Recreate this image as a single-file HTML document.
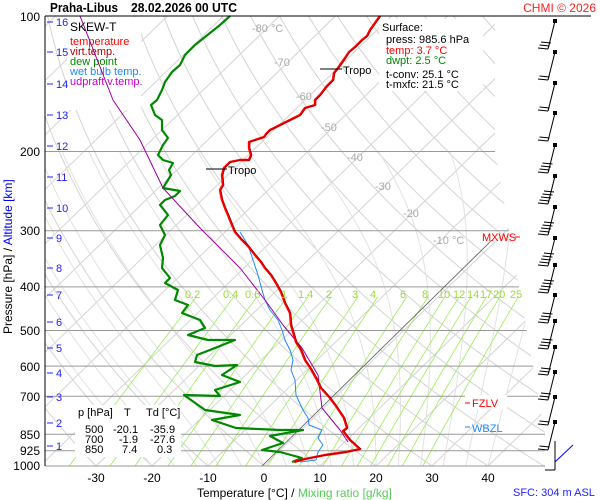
<!DOCTYPE html>
<html><head><meta charset="utf-8"><style>
body{margin:0;background:#fff}
svg{display:block;font-family:"Liberation Sans",sans-serif}
</style></head><body>
<svg id="s" width="600" height="500" xmlns="http://www.w3.org/2000/svg">
<defs><clipPath id="c"><polygon points="45,16 495,16 495,151 545,434 545,466 45,466"/></clipPath></defs>
<g id="grid" clip-path="url(#c)"></g>
<g id="hl"></g>
<rect x="67" y="17" width="74" height="93" fill="#fff"/>
<rect x="379" y="19" width="104" height="72" fill="#fff"/>
<rect x="75" y="405" width="106" height="52" fill="#fff"/>
<g font-size="11">
<text x="70" y="31" font-size="12" fill="#000">SKEW-T</text>
<text x="70" y="45" fill="#f00">temperature</text>
<text x="70" y="55" fill="#a00">virt.temp.</text>
<text x="70" y="65" fill="#080">dew point</text>
<text x="70" y="75" fill="#28f">wet bulb temp.</text>
<text x="70" y="85" fill="#c0c">udpraft v.temp.</text>
<text x="382" y="31" fill="#000">Surface:</text>
<text x="386" y="43" fill="#000">press: 985.6 hPa</text>
<text x="386" y="54" fill="#f00">temp: 3.7 °C</text>
<text x="386" y="64" fill="#080">dwpt: 2.5 °C</text>
<text x="386" y="78" fill="#000">t-conv: 25.1 °C</text>
<text x="386" y="88" fill="#000">t-mxfc: 21.5 °C</text>
<text x="78" y="416" fill="#000">p [hPa]</text><text x="124" y="416">T</text><text x="146" y="416">Td [°C]</text>
<text x="85" y="433">500</text><text x="113" y="433">-20.1</text><text x="150" y="433">-35.9</text>
<text x="85" y="443">700</text><text x="119" y="443">-1.9</text><text x="150" y="443">-27.6</text>
<text x="85" y="453">850</text><text x="122" y="453">7.4</text><text x="157" y="453">0.3</text>
</g>
<g id="prof" fill="none" stroke-linejoin="round"></g>
<line x1="45" y1="16" x2="45" y2="466" stroke="#000"/>
<line x1="45" y1="16" x2="591" y2="16" stroke="#000"/>
<g font-size="12" text-anchor="end" fill="#000">
<text x="40" y="21">100</text><text x="40" y="156">200</text><text x="40" y="235">300</text><text x="40" y="291">400</text><text x="40" y="335">500</text><text x="40" y="371">600</text><text x="40" y="401">700</text><text x="40" y="439">850</text><text x="40" y="455">925</text><text x="40" y="470">1000</text>
</g>
<text transform="translate(12,334) rotate(-90)" font-size="12" fill="#000">Pressure [hPa]  /  <tspan fill="#00f">Altitude [km]</tspan></text>
<g font-size="11" fill="#22f" id="km"></g>
<g font-size="12" text-anchor="middle" fill="#000">
<text x="96" y="482">-30</text><text x="152" y="482">-20</text><text x="208" y="482">-10</text><text x="264" y="482">0</text><text x="320" y="482">10</text><text x="376" y="482">20</text><text x="432" y="482">30</text><text x="488" y="482">40</text>
</g>
<text x="197" y="497" font-size="12" fill="#000">Temperature [°C]  /  <tspan fill="#5c5">Mixing ratio [g/kg]</tspan></text>
<text x="513" y="496" font-size="11" fill="#22f">SFC: 304 m ASL</text>
<text x="50" y="12" font-size="13" font-weight="bold" fill="#000" textLength="68" lengthAdjust="spacingAndGlyphs">Praha-Libus</text>
<text x="131" y="12" font-size="13" font-weight="bold" fill="#000" textLength="106" lengthAdjust="spacingAndGlyphs">28.02.2026 00 UTC</text>
<text x="596" y="12" font-size="12" fill="#f22" text-anchor="end">CHMI © 2026</text>
<g font-size="11" fill="#aaa">
<text x="252" y="32">-80 °C</text><text x="274" y="66">-70</text><text x="296" y="100">-60</text><text x="321" y="131">-50</text><text x="347" y="161">-40</text><text x="375" y="190">-30</text><text x="403" y="217">-20</text><text x="433" y="244">-10 °C</text>
</g>
<g font-size="11" fill="#9d3">
<text x="185" y="298">0.2</text><text x="223" y="298">0.4</text><text x="245" y="298">0.6</text><text x="281" y="298">1</text><text x="298" y="298">1.4</text><text x="326" y="298">2</text><text x="352" y="298">3</text><text x="370" y="298">4</text><text x="400" y="298">6</text><text x="422" y="298">8</text><text x="438" y="298">10</text><text x="453" y="298">12</text><text x="467" y="298">14</text><text x="480" y="298">17</text><text x="493" y="298">20</text><text x="510" y="298">25</text>
</g>
<rect x="465" y="395" width="42" height="14" fill="#fff"/>
<text x="472" y="407" font-size="11" fill="#f00">FZLV</text><line x1="465" y1="403" x2="470" y2="403" stroke="#f00"/>
<text x="472" y="432" font-size="11" fill="#28f">WBZL</text><line x1="465" y1="427" x2="470" y2="427" stroke="#28f"/>
<text x="482" y="241" font-size="11" fill="#f00">MXWS</text><line x1="515" y1="237" x2="520" y2="237" stroke="#f00"/>
<line x1="320" y1="69" x2="342" y2="69" stroke="#000"/><text x="343" y="74" font-size="11">Tropo</text>
<line x1="206" y1="169" x2="227" y2="169" stroke="#000"/><text x="228" y="174" font-size="11">Tropo</text>
<g id="barbs" stroke="#000" fill="none"></g>
</svg>
<script>
const NS="http://www.w3.org/2000/svg";
function Y(p){return 16+450*Math.log10(p/100);}
function X(T,p){return 264+5.6*T+1.03*(466-Y(p));}
function el(par,tag,a){const e=document.createElementNS(NS,tag);for(const k in a)e.setAttribute(k,a[k]);document.getElementById(par).appendChild(e);return e;}
function pl(par,pts,col,w,extra){let a={points:pts.map(q=>q[0].toFixed(1)+","+q[1].toFixed(1)).join(" "),fill:"none",stroke:col,"stroke-width":w};Object.assign(a,extra||{});el(par,"polyline",a);}
const ps=[];for(let p=100;p<=1000;p+=10)ps.push(p);
for(let T=-140;T<=50;T+=10)pl("grid",[[X(T,1000),Y(1000)],[X(T,100),Y(100)]],"#d4d4d4",1);
for(let th=-40;th<=220;th+=10){let pts=ps.map(p=>{const T=(th+273.15)*Math.pow(p/1000,0.286)-273.15;return [X(T,p),Y(p)];});pl("grid",pts,"#d4d4d4",1);}
function es(T){return 6.112*Math.exp(17.67*T/(T+243.5));}
for(let T0=-20;T0<=40;T0+=4){let T=T0,pts=[];for(let p=1000;p>=200;p-=5){pts.push([X(T,p),Y(p)]);const Tk=T+273.15,e=es(T),r=0.622*e/(p-e);const g=(287*Tk+2.5e6*r)/(1004+2.5e6*2.5e6*r*0.622/(287*Tk*Tk))/p;T-=g*5;}pl("grid",pts,"#e2e2e2",1);}
[0.2,0.4,0.6,1,1.4,2,3,4,6,8,10,12,14,17,20,25].forEach(w=>{let pts=[];for(let p=420;p<=1000;p+=20){const e=w*p/(622+w);const l=Math.log(e/6.112);const T=243.5*l/(17.67-l);pts.push([X(T,p),Y(p)]);}pl("grid",pts,"#9e5",0.8);});
[200,300,400,500,600,700,850,925,1000].forEach(p=>{const y=Y(p);const xe=y<151?495:495+(y-151)*0.177;el("hl","line",{x1:45,y1:y,x2:Math.min(xe,545),y2:y,stroke:"#999"});});
pl("prof",[[262,466],[492,240]],"#555",0.8);
[[16,22],[15,52],[14,84],[13,115],[12,146],[11,177],[10,208],[9,238],[8,268],[7,295],[6,322],[5,348],[4,373],[3,397],[2,423],[1,446]].forEach(([k,y])=>{el("km","line",{x1:47,y1:y,x2:53,y2:y,stroke:"#22f"});const t=el("km","text",{x:56,y:y+4});t.textContent=k;});
const dew=[[230,16],[220,25],[210,33],[195,45],[185,55],[180,65],[172,72],[165,82],[162,90],[157,100],[151,105],[155,115],[162,120],[162,130],[168,138],[163,145],[158,155],[163,160],[173,163],[169,170],[171,175],[168,180],[163,188],[180,191],[175,196],[165,200],[160,205],[168,215],[160,225],[165,235],[160,245],[163,258],[162,268],[170,278],[165,283],[178,290],[175,300],[188,305],[182,313],[200,320],[205,328],[188,335],[208,340],[235,340],[215,348],[197,355],[195,362],[215,366],[237,365],[222,375],[240,382],[215,390],[220,396],[184,395],[205,410],[240,415],[212,420],[236,428],[280,430],[303,430],[270,436],[283,443],[262,450],[280,452],[302,458],[292,462]];
pl("prof",dew,"#080",2.2);
const wb=[[240,232],[248,245],[253,260],[258,275],[262,290],[265,300],[270,310],[278,320],[282,330],[285,340],[290,350],[293,360],[291,370],[295,380],[296,395],[303,410],[308,418],[309,425],[322,430],[318,438],[323,445],[318,452],[316,460],[300,462]];
pl("prof",wb,"#28f",1);
pl("prof",[[80,16],[113,100],[140,140],[163,188],[200,228],[240,268],[265,300],[283,325],[302,348],[318,375],[322,408],[340,430],[348,442]],"#909",1);
const red=[[380,16],[370,30],[367,36],[362,40],[355,47],[349,52],[345,58],[338,68],[334,73],[333,80],[327,86],[320,95],[315,100],[315,105],[305,108],[300,115],[290,120],[280,125],[270,130],[266,134],[264,137],[255,140],[249,142],[249,148],[251,155],[249,160],[240,160],[230,162],[224,168],[222,175],[223,185],[220,190],[222,200],[225,208],[228,215],[232,225],[235,232],[241,239],[248,246],[255,255],[261,262],[265,268],[271,275],[276,283],[281,292],[285,303],[290,313],[291,325],[294,335],[296,342],[301,350],[305,360],[311,369],[316,378],[321,388],[330,398],[336,406],[344,418],[347,428],[343,431],[350,440],[360,449],[346,452],[325,455],[305,459],[294,462]];
pl("prof",red,"#f00",2.4);
pl("prof",red.map(q=>[q[0]+1,q[1]]),"#800",0.6);
[[21,3],[52,2],[83,2],[113,2],[145,4],[176,5],[207,5],[238,5],[265,5],[295,4],[321,4],[347,3],[372,3],[397,2],[422,2]].forEach(([y,n],i)=>{const bx=548,by=y+28;el("barbs","line",{x1:555,y1:y,x2:bx,y2:by});el("barbs","rect",{x:553,y:y-2,width:4,height:4,fill:"#000",stroke:"none"});for(let j=0;j<n;j++){el("barbs","line",{x1:bx+j*1.5,y1:by-j*3,x2:bx-10+j*1.5,y2:by-j*3-1});}});
el("barbs","line",{x1:555,y1:441,x2:555,y2:470});el("barbs","line",{x1:545,y1:470,x2:555,y2:470});
el("barbs","line",{x1:555,y1:462,x2:573,y2:445,stroke:"#00f"});
</script>
</body></html>
